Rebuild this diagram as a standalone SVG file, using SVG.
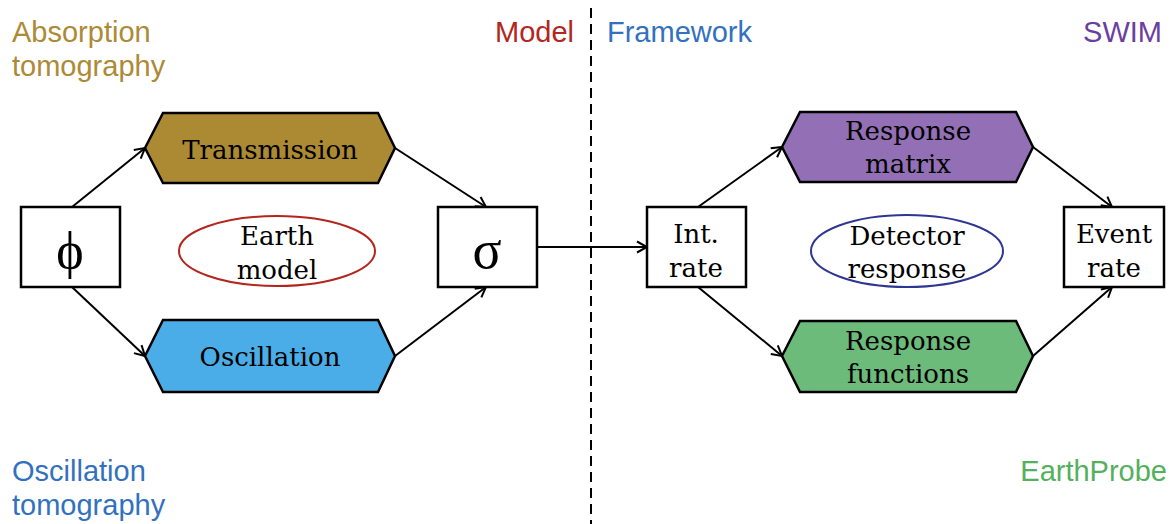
<svg xmlns="http://www.w3.org/2000/svg" width="1171" height="524" viewBox="0 0 1171 524">
<style>
.lbl{font-family:"Liberation Sans",Arial,sans-serif;font-size:29px}
.nt{font-family:"DejaVu Serif","Liberation Serif",serif;font-size:26px;fill:#000;text-anchor:middle}
.box{fill:#fff;stroke:#000;stroke-width:2.5}
.hex{stroke:#000;stroke-width:2.5;stroke-linejoin:miter}
.conn{stroke:#000;stroke-width:2;fill:none;marker-end:url(#arr)}
</style>
<defs>
<marker id="arr" markerUnits="userSpaceOnUse" markerWidth="14" markerHeight="14" viewBox="-12 -7 14 14" refX="0" refY="0" orient="auto">
<path d="M-10,-5.5 L0,0 L-10,5.5" fill="none" stroke="#000" stroke-width="2"/>
</marker>
</defs>
<rect width="1171" height="524" fill="#fff"/>

<g id="labels">
<text class="lbl" x="12" y="42" fill="#AD8A35">Absorption</text>
<text class="lbl" x="12" y="76" fill="#AD8A35">tomography</text>
<text class="lbl" x="574" y="42" fill="#B3261E" text-anchor="end">Model</text>
<text class="lbl" x="607" y="42" fill="#3271BF">Framework</text>
<text class="lbl" x="1162" y="42" fill="#6B3FA0" text-anchor="end">SWIM</text>
<text class="lbl" x="12" y="481" fill="#3271BF">Oscillation</text>
<text class="lbl" x="12" y="515" fill="#3271BF">tomography</text>
<text class="lbl" x="1167" y="481" fill="#55B05E" text-anchor="end">EarthProbe</text>
</g>

<line id="divider" x1="591" y1="8" x2="591" y2="524" stroke="#000" stroke-width="2" stroke-dasharray="10,6"/>

<g id="connectors">
<line class="conn" x1="72" y1="207" x2="145" y2="148"/>
<line class="conn" x1="72" y1="287" x2="145" y2="356"/>
<line class="conn" x1="395" y1="148" x2="486" y2="207"/>
<line class="conn" x1="395" y1="356" x2="486" y2="287"/>
<line class="conn" x1="537" y1="247" x2="647" y2="247"/>
<line class="conn" x1="698" y1="207" x2="782" y2="147"/>
<line class="conn" x1="698" y1="287" x2="782" y2="356"/>
<line class="conn" x1="1033" y1="147" x2="1112" y2="207"/>
<line class="conn" x1="1033" y1="356" x2="1112" y2="287"/>
</g>

<g id="phi">
<rect class="box" x="21" y="207" width="99" height="80"/>
<text x="70" y="268" font-family="'Liberation Serif',serif" font-size="52" text-anchor="middle">ϕ</text>
</g>

<g id="transmission">
<polygon class="hex" fill="#AC8A34" points="145,148 163,113 378,113 395,148 378,183 163,183"/>
<text class="nt" x="270" y="159">Transmission</text>
</g>

<g id="oscillation">
<polygon class="hex" fill="#4AADE8" points="145,356 163,320 378,320 395,356 378,392 163,392"/>
<text class="nt" x="270" y="366">Oscillation</text>
</g>

<g id="earth-model">
<ellipse cx="277" cy="251" rx="98" ry="35" fill="none" stroke="#B3261E" stroke-width="2"/>
<text class="nt" x="277" y="245">Earth</text>
<text class="nt" x="277" y="279">model</text>
</g>

<g id="sigma">
<rect class="box" x="438" y="207" width="99" height="80"/>
<text x="487" y="268" font-family="'Liberation Serif',serif" font-size="54" text-anchor="middle">σ</text>
</g>

<g id="int-rate">
<rect class="box" x="647" y="207" width="99" height="80"/>
<text class="nt" x="696" y="243">Int.</text>
<text class="nt" x="696" y="277">rate</text>
</g>

<g id="response-matrix">
<polygon class="hex" fill="#9370B5" points="782,147 800,112 1016,112 1033,147 1016,182 800,182"/>
<text class="nt" x="908" y="140">Response</text>
<text class="nt" x="908" y="173">matrix</text>
</g>

<g id="response-functions">
<polygon class="hex" fill="#6DBB7B" points="782,356 800,321 1016,321 1033,356 1016,392 800,392"/>
<text class="nt" x="908" y="350">Response</text>
<text class="nt" x="908" y="383">functions</text>
</g>

<g id="detector-response">
<ellipse cx="907" cy="251" rx="96" ry="36" fill="none" stroke="#2E3592" stroke-width="2"/>
<text class="nt" x="907" y="245">Detector</text>
<text class="nt" x="907" y="278">response</text>
</g>

<g id="event-rate">
<rect class="box" x="1064" y="207" width="100" height="80"/>
<text class="nt" x="1114" y="243">Event</text>
<text class="nt" x="1114" y="277">rate</text>
</g>
</svg>
